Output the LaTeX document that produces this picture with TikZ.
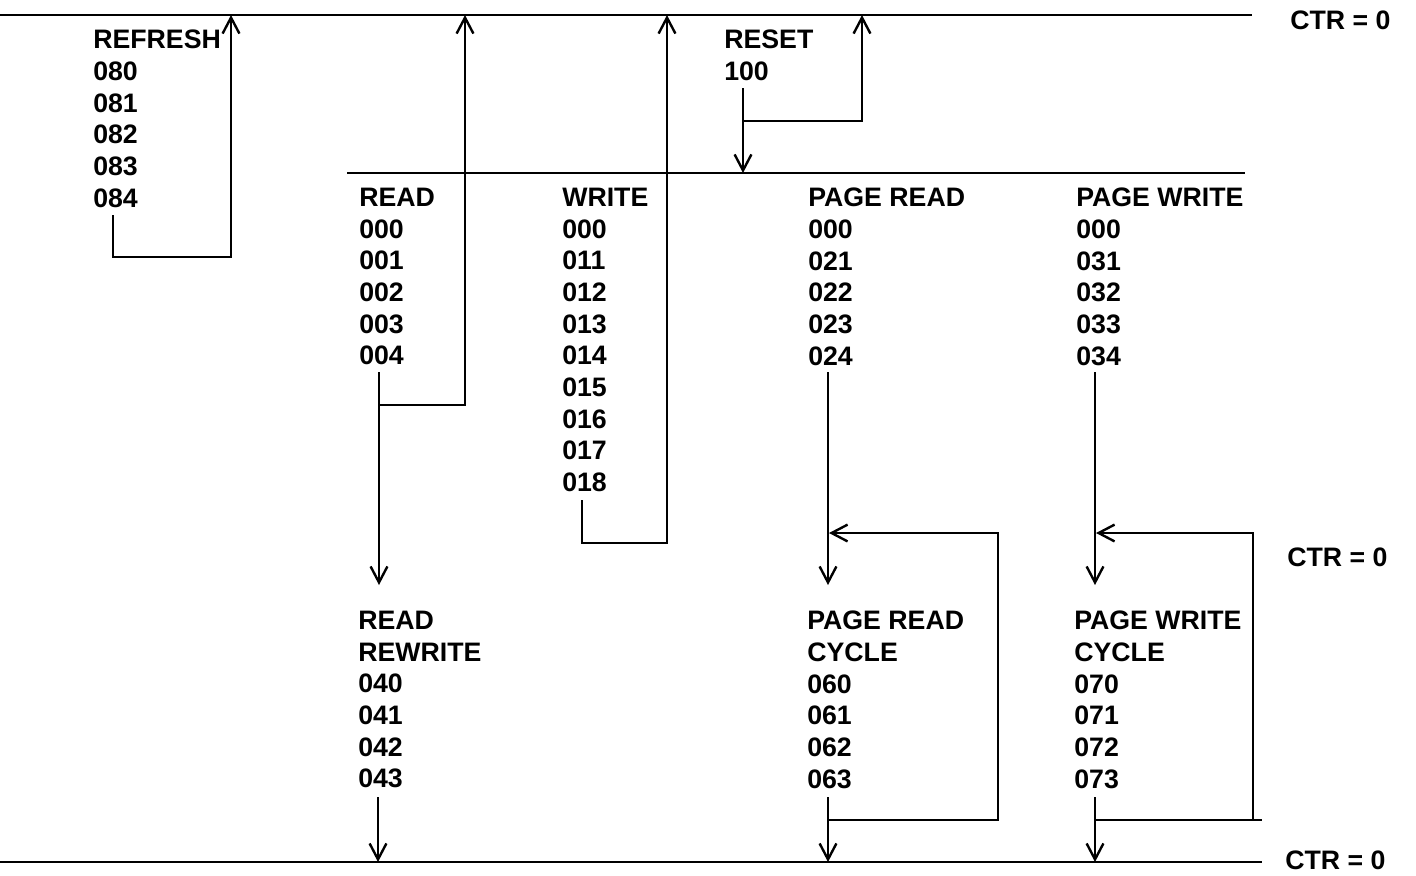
\documentclass[tikz,border=0pt]{standalone}
\usepackage{fontspec}
\setmainfont{Liberation Sans}
\usetikzlibrary{arrows.meta}
\newcommand\blkfont{\fontsize{19}{22.5}\selectfont\bfseries}

\begin{document}
\begin{tikzpicture}[x=0.25mm,y=-0.25mm,
  lbl/.style={anchor=north west,inner sep=0pt,align=left,font=\blkfont},
  ctr/.style={anchor=west,inner sep=0pt,font=\blkfont},
  wire/.style={line width=1.7pt},
  flow/.style={wire,-{Straight Barb[length=4mm,width=4.2mm]}}]
\useasboundingbox (0,0) rectangle (1416,875);
% counter lines
\coordinate (T0) at (0,15); \coordinate (T1) at (1252,15);
\coordinate (M0) at (347,173); \coordinate (M1) at (1245,173);
\coordinate (B0) at (0,862); \coordinate (B1) at (1262,862);
\draw[wire] (T0)--(T1); \draw[wire] (M0)--(M1); \draw[wire] (B0)--(B1);
\node[ctr] (ctrT) at (1290,20) {CTR = 0};
\node[ctr] (ctrM) at (1287,557) {CTR = 0};
\node[ctr] (ctrB) at (1285,860) {CTR = 0};
% state blocks
\node[lbl] (refresh) at (93,30) {REFRESH\\080\\081\\082\\083\\084};
\node[lbl] (reset) at (724,30) {RESET\\100};
\node[lbl] (read) at (359,188) {READ\\000\\001\\002\\003\\004};
\node[lbl] (write) at (562,188) {WRITE\\000\\011\\012\\013\\014\\015\\016\\017\\018};
\node[lbl] (pread) at (808,188) {PAGE READ\\000\\021\\022\\023\\024};
\node[lbl] (pwrite) at (1076,188) {PAGE WRITE\\000\\031\\032\\033\\034};
\node[lbl] (rrw) at (358,611) {READ\\REWRITE\\040\\041\\042\\043};
\node[lbl] (prc) at (807,611) {PAGE READ\\CYCLE\\060\\061\\062\\063};
\node[lbl] (pwc) at (1074,611) {PAGE WRITE\\CYCLE\\070\\071\\072\\073};
% refresh and reset
\coordinate (f0) at (113,215); \coordinate (f1) at (231,257); \coordinate (f2) at (231,15);
\draw[flow] (f0) |- (f1) -- (f2);
\coordinate (s0) at (743,88); \coordinate (s1) at (743,173); \coordinate (s2) at (743,121); \coordinate (s3) at (862,15);
\draw[flow] (s0)--(s1); \draw[flow] (s2) -| (s3);
% read and write
\coordinate (r0) at (379,372); \coordinate (r1) at (379,585); \coordinate (r2) at (379,405); \coordinate (r3) at (465,15);
\draw[flow] (r0)--(r1); \draw[flow] (r2) -| (r3);
\coordinate (w0) at (582,500); \coordinate (w1) at (667,543); \coordinate (w2) at (667,15);
\draw[flow] (w0) |- (w1) -- (w2);
\coordinate (rr0) at (378,797); \coordinate (rr1) at (378,862);
\draw[flow] (rr0)--(rr1);
% page read
\coordinate (p0) at (828,372); \coordinate (p1) at (828,585);
\coordinate (p2) at (828,797); \coordinate (p3) at (828,862);
\coordinate (p4) at (828,820); \coordinate (p5) at (998,533); \coordinate (p6) at (829,533);
\draw[flow] (p0)--(p1); \draw[flow] (p2)--(p3); \draw[flow] (p4) -| (p5) -- (p6);
% page write
\coordinate (q0) at (1095,372); \coordinate (q1) at (1095,585);
\coordinate (q2) at (1095,797); \coordinate (q3) at (1095,862);
\coordinate (q4) at (1095,820); \coordinate (q5) at (1262,820);
\coordinate (q6) at (1253,820); \coordinate (q7) at (1096,533);
\draw[flow] (q0)--(q1); \draw[flow] (q2)--(q3);
\draw[wire] (q4)--(q5); \draw[flow] (q6) |- (q7);
\end{tikzpicture}
\end{document}
